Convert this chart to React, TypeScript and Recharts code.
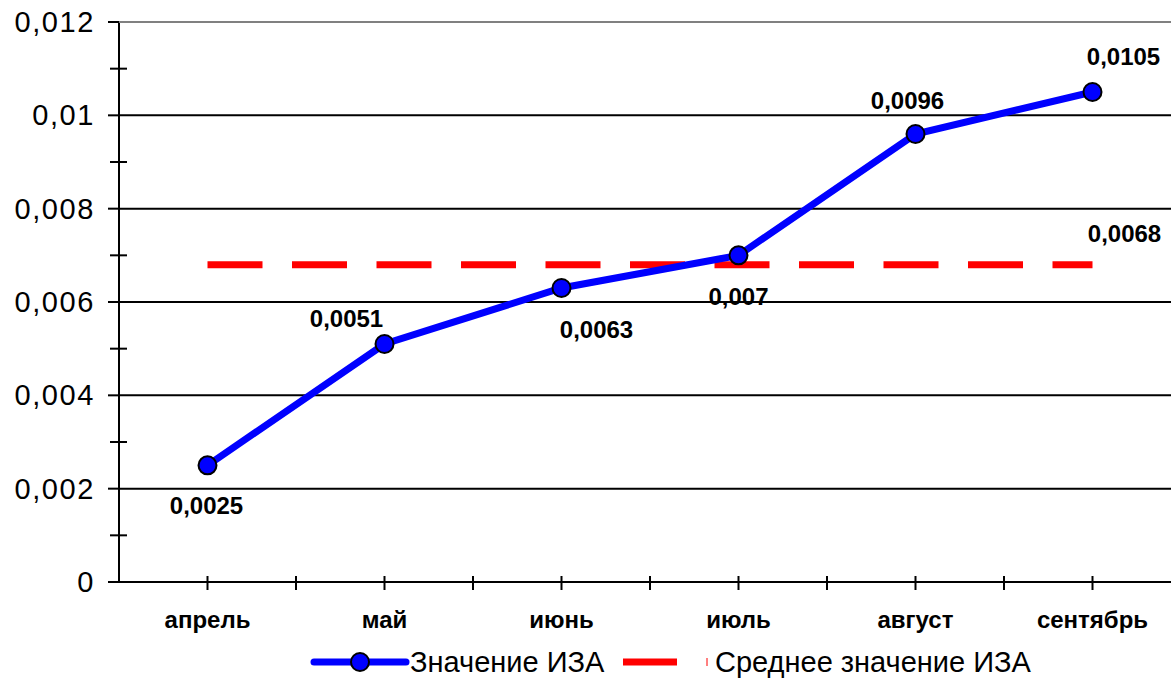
import React from "react";
import { LineChart, Line, XAxis, YAxis, CartesianGrid, Legend, LabelList } from "recharts";

const months = ["апрель", "май", "июнь", "июль", "август", "сентябрь"];
const izaValues = [0.0025, 0.0051, 0.0063, 0.007, 0.0096, 0.0105];
const avgValues = [0.0068, 0.0068, 0.0068, 0.0068, 0.0068, 0.0068];
const yTicks = [0, 0.001, 0.002, 0.003, 0.004, 0.005, 0.006, 0.007, 0.008, 0.009, 0.01, 0.011, 0.012];
const gridValues = [0.002, 0.004, 0.006, 0.008, 0.01];

const data = months.map((m, i) => ({ month: m, iza: izaValues[i], avg: avgValues[i] }));

// label offsets (dx, dy to text centre) for each point
const labelOffsets = [
  [-1, 40],
  [-38, -25],
  [35, 42],
  [0, 41],
  [-8, -33],
  [31, -35],
];

const FONT = "'Liberation Sans', Arial, sans-serif";
const fmt = (v: number) => (v === 0 ? "0" : String(v).replace(".", ","));

const YTick = (props: any) => {
  const { x, y, payload } = props;
  const v = payload.value as number;
  const major = Math.round(v * 1000) % 2 === 0;
  return (
    <g>
      {major ? (
        <line x1={x - 11} x2={x} y1={y} y2={y} stroke="#000" strokeWidth={2} />
      ) : (
        <line x1={x - 9} x2={x + 8} y1={y} y2={y} stroke="#000" strokeWidth={2} />
      )}
      {v === 0.012 && <line x1={x} x2={x + 1100} y1={y} y2={y} stroke="#808080" strokeWidth={2} />}
      {major && (
        <text x={x - 24} y={y} dy="0.35em" textAnchor="end" fontSize={29} letterSpacing={1.6} fontFamily={FONT} fill="#000">
          {fmt(v)}
        </text>
      )}
    </g>
  );
};

const XTick = (props: any) => {
  const { x, y, payload } = props;
  return (
    <g>
      <line x1={x} x2={x} y1={y - 6} y2={y + 8} stroke="#000" strokeWidth={2} />
      <line x1={x + 88.5} x2={x + 88.5} y1={y - 6} y2={y + 8} stroke="#000" strokeWidth={2} />
      <text x={x} y={y + 46} textAnchor="middle" fontSize={24} fontWeight="bold" fontFamily={FONT} fill="#000">
        {payload.value}
      </text>
    </g>
  );
};

const IzaLabel = (props: any) => {
  const { x, y, value, index } = props;
  const [dx, dy] = labelOffsets[index] || [0, -20];
  return (
    <text x={x + dx} y={y + dy} dy="0.35em" textAnchor="middle" fontSize={24} fontWeight="bold" fontFamily={FONT} fill="#000">
      {fmt(value)}
    </text>
  );
};

const AvgLabel = (props: any) => {
  const { x, y, value, index } = props;
  if (index !== months.length - 1) return null;
  return (
    <text x={x + 32} y={y - 31} dy="0.35em" textAnchor="middle" fontSize={24} fontWeight="bold" fontFamily={FONT} fill="#000">
      {fmt(value)}
    </text>
  );
};

const LegendContent = () => (
  <svg width={800} height={40} style={{ overflow: "visible" }}>
    <line x1={8} x2={100} y1={20} y2={20} stroke="#0000ff" strokeWidth={7} strokeLinecap="round" />
    <circle cx={54} cy={20} r={9} fill="#0000ff" stroke="#000" strokeWidth={2} />
    <text x={104} y={20} dy="0.35em" fontSize={29} fontFamily={FONT} fill="#000">
      Значение ИЗА
    </text>
    <line x1={317} x2={371} y1={20} y2={20} stroke="#ff0000" strokeWidth={7} />
    <line x1={401} x2={401} y1={16} y2={24} stroke="#ff0000" strokeWidth={1} />
    <text x={409} y={20} dy="0.35em" fontSize={29} fontFamily={FONT} fill="#000">
      Среднее значение ИЗА
    </text>
  </svg>
);

export default function App() {
  return (
    <div style={{ position: "absolute", left: 0, top: 0, width: 1171, height: 678, overflow: "hidden", background: "#fff" }}>
      <LineChart width={1208} height={678} data={data} margin={{ top: 22, right: 27, left: 8, bottom: 36 }}>
        <CartesianGrid vertical={false} horizontalValues={gridValues} stroke="#000" strokeWidth={2} />
        <XAxis
          dataKey="month"
          height={60}
          padding={{ left: 88.5, right: 88.5 }}
          tickSize={0}
          tickMargin={0}
          tickLine={false}
          axisLine={{ stroke: "#000", strokeWidth: 2 }}
          tick={<XTick />}
          interval={0}
        />
        <YAxis
          width={111}
          domain={[0, 0.012]}
          ticks={yTicks}
          interval={0}
          tickSize={0}
          tickMargin={0}
          tickLine={false}
          axisLine={{ stroke: "#000", strokeWidth: 2 }}
          tick={<YTick />}
        />
        <Legend verticalAlign="middle" wrapperStyle={{ top: 642, left: 306, width: 800, height: 40 }} content={<LegendContent />} />
        <Line
          dataKey="avg"
          stroke="#ff0000"
          strokeWidth={7}
          strokeDasharray="55 29.5"
          dot={false}
          activeDot={false}
          isAnimationActive={false}
        >
          <LabelList dataKey="avg" content={<AvgLabel />} />
        </Line>
        <Line
          dataKey="iza"
          stroke="#0000ff"
          strokeWidth={7}
          dot={{ r: 9, fill: "#0000ff", stroke: "#000", strokeWidth: 2 }}
          activeDot={false}
          isAnimationActive={false}
        >
          <LabelList dataKey="iza" content={<IzaLabel />} />
        </Line>
      </LineChart>
    </div>
  );
}
